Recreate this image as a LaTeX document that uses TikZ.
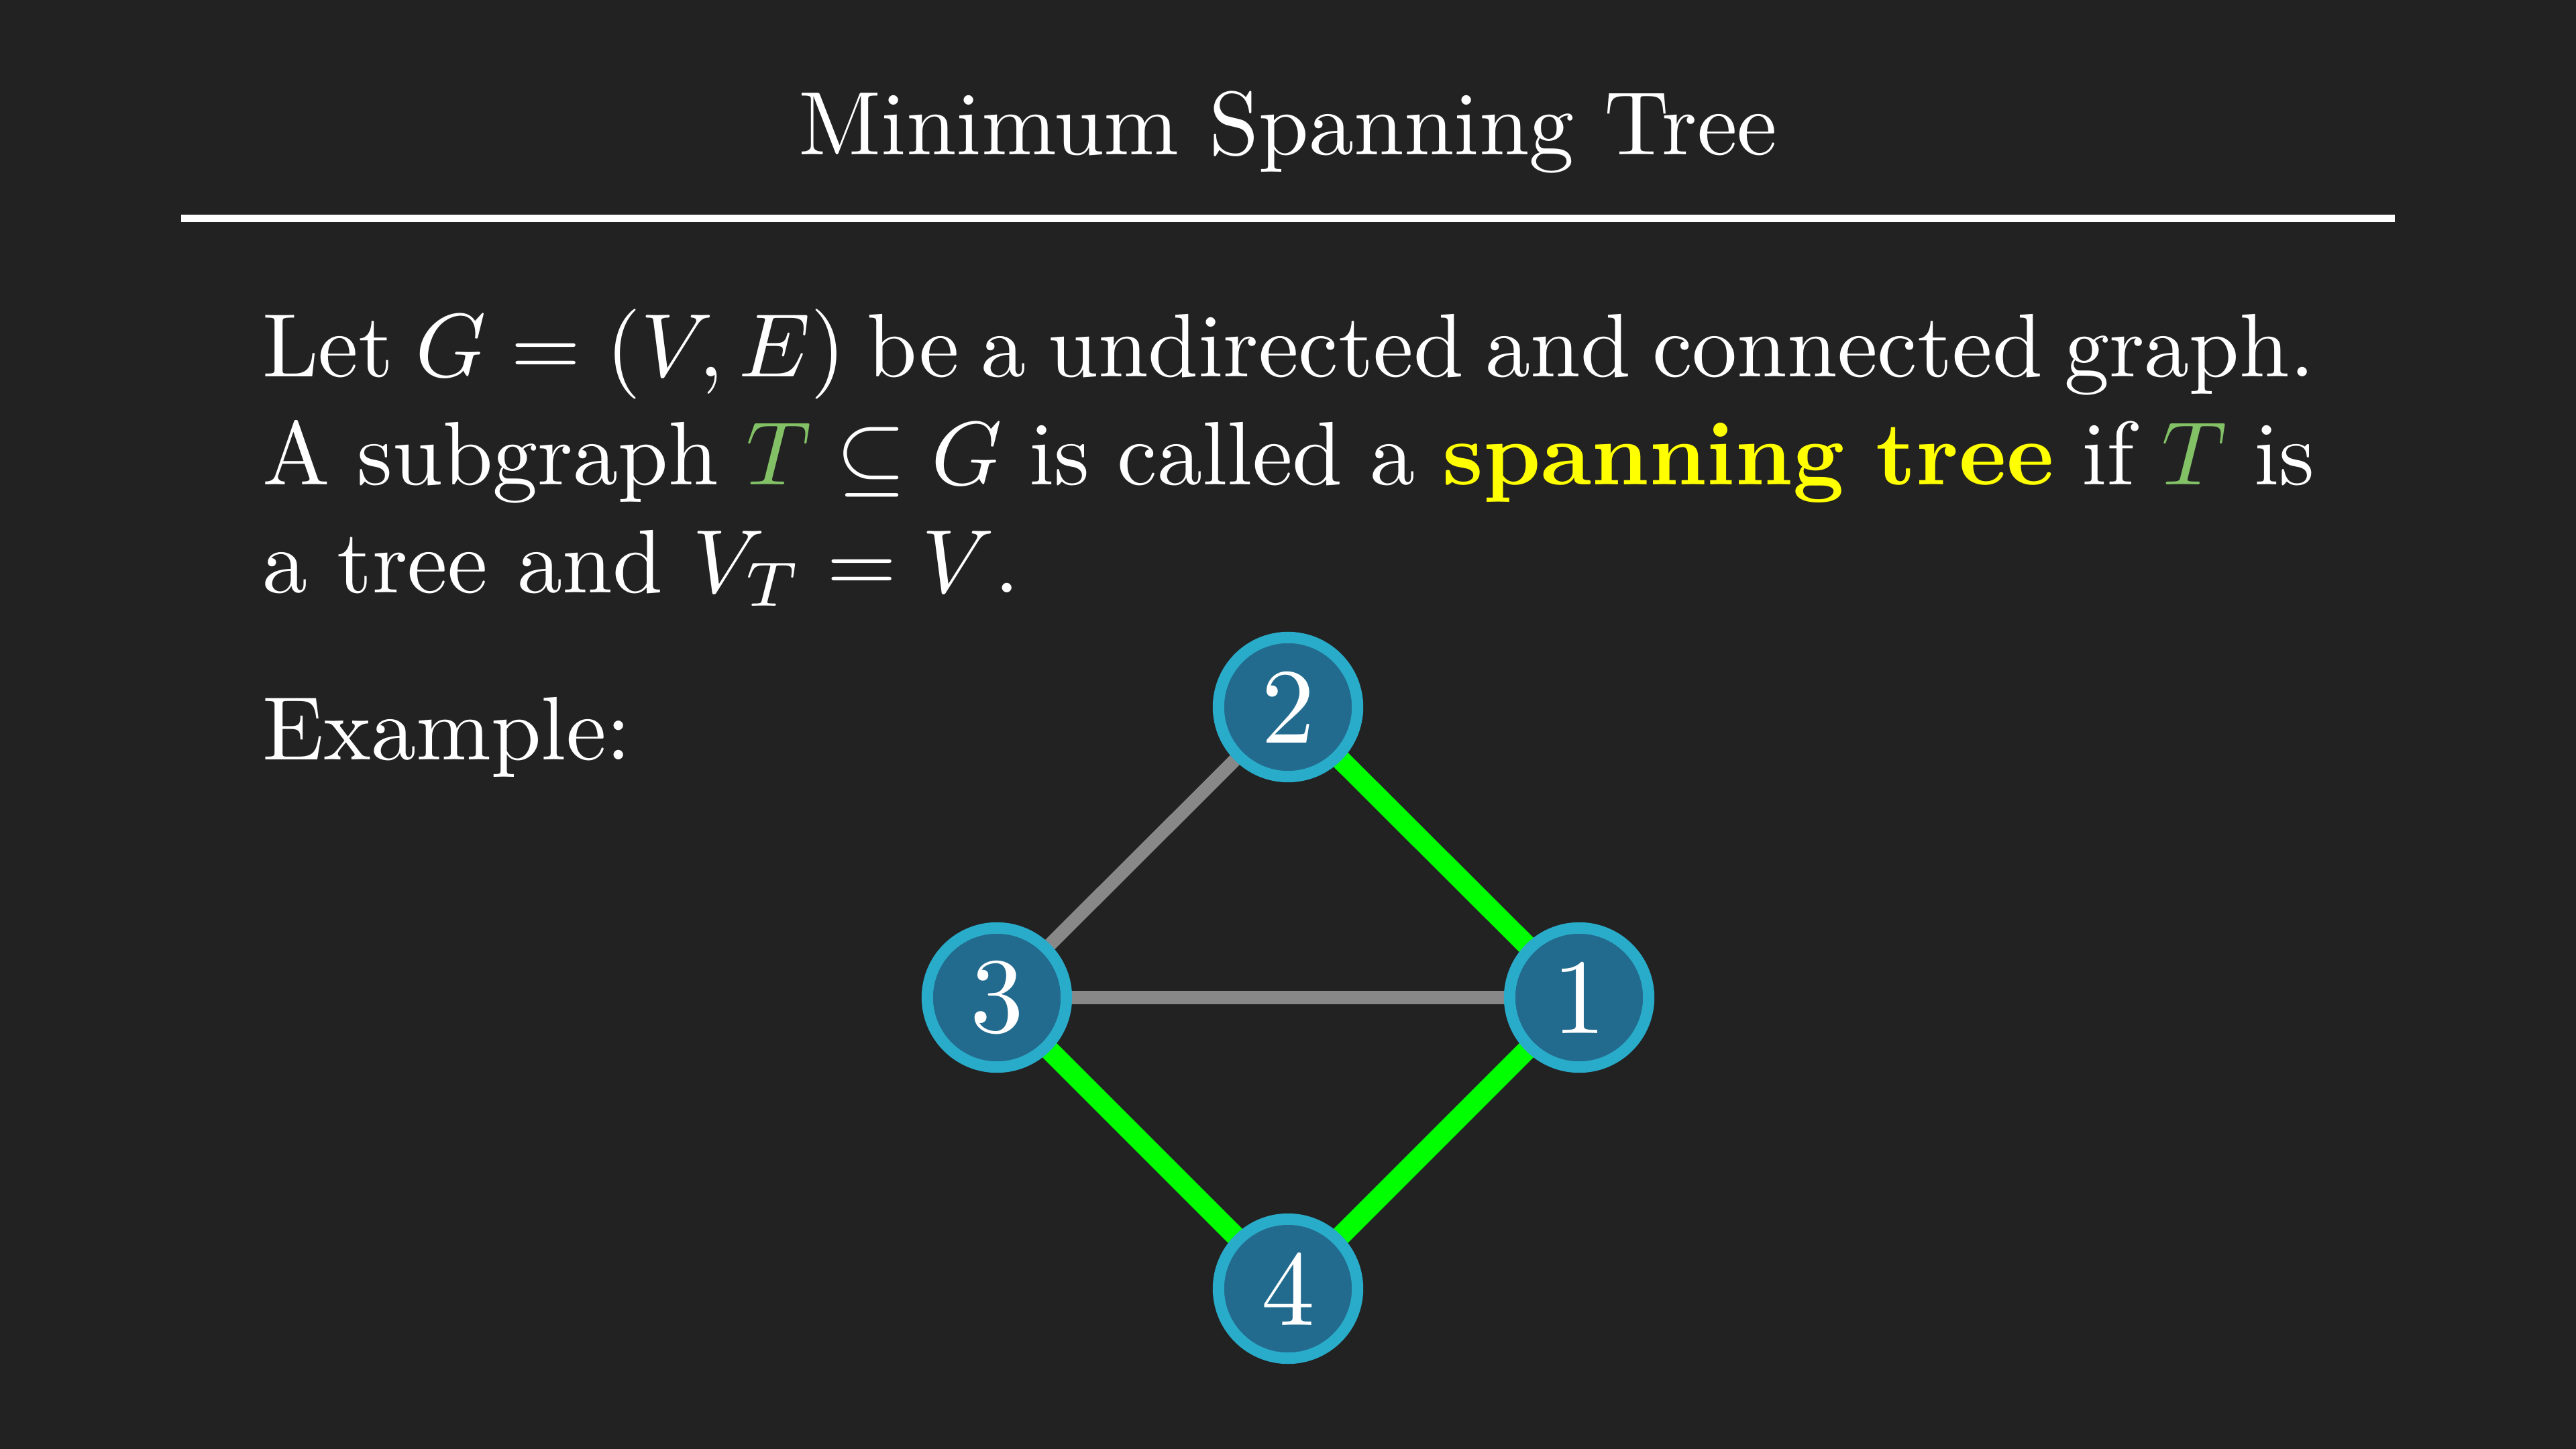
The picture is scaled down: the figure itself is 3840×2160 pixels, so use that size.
\documentclass[tikz,border=0pt]{standalone}
\usepackage{xcolor}
\definecolor{bgdark}{HTML}{222222}
\definecolor{nodefill}{HTML}{236B8E}
\definecolor{nodering}{HTML}{29ABCA}
\definecolor{treegreen}{HTML}{00FF00}
\definecolor{edgegray}{HTML}{888888}
\definecolor{mathgreen}{HTML}{83C167}
\definecolor{hiyellow}{HTML}{FFFF00}
\pgfdeclarelayer{canvas}
\pgfdeclarelayer{edges}
\pgfsetlayers{canvas,edges,main}
\tikzset{
  slidetext/.style={text=white, inner sep=0pt, outer sep=0pt, scale=3.82},
  vertex/.style={circle, draw=nodering, fill=nodefill, line width=1.7mm,
    minimum size=20.74mm, inner sep=0pt, outer sep=0pt, text=white},
  treeedge/.style={draw=treegreen, line width=3mm},
  otheredge/.style={draw=edgegray, line width=2mm},
}
\newcommand{\vlabel}[1]{\scalebox{4.54}{#1}}
\begin{document}
\begin{tikzpicture}[x=0.1mm,y=-0.1mm]
  % canvas
  \begin{pgfonlayer}{canvas}
    \fill[bgdark] (0,0) rectangle (3840,2160);
  \end{pgfonlayer}
  \useasboundingbox (0,0) rectangle (3840,2160);

  % heading and rule
  \node[slidetext, anchor=base] (title) at (1920,230) {Minimum Spanning Tree};
  \draw[white, line width=1.1mm] (270,325) -- (3570,325);

  % definition paragraph
  \node[slidetext, anchor=base west] (def) at (391,561)
    {\parbox[t]{227.9pt}{\tolerance=9999
      Let $G = (V, E)$ be a undirected and connected graph.\linebreak
      A subgraph $\textcolor{mathgreen}{T} \subseteq G$ is called a
      \textcolor{hiyellow}{\textbf{spanning tree}} if $\textcolor{mathgreen}{T}$ is\linebreak
      a tree and $V_T = V$.}};

  \node[slidetext, anchor=base west] (ex) at (391,1132) {Example:};

  % graph
  \node[vertex] (v2) at (1920,1054) {\vlabel{2}};
  \node[vertex] (v3) at (1486,1487) {\vlabel{3}};
  \node[vertex] (v1) at (2354,1487) {\vlabel{1}};
  \node[vertex] (v4) at (1920,1921) {\vlabel{4}};

  \begin{pgfonlayer}{edges}
    \draw[otheredge] (v3) -- (v2);
    \draw[otheredge] (v3) -- (v1);
    \draw[treeedge] (v2) -- (v1);
    \draw[treeedge] (v3) -- (v4);
    \draw[treeedge] (v4) -- (v1);
  \end{pgfonlayer}
\end{tikzpicture}
\end{document}
